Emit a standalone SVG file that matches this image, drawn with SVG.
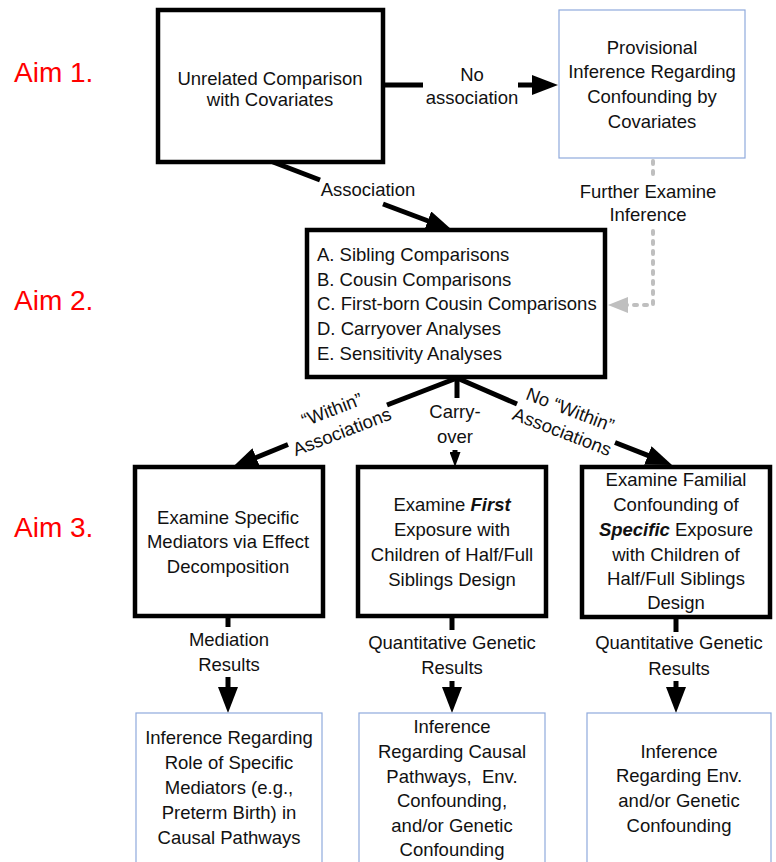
<svg xmlns="http://www.w3.org/2000/svg" width="776" height="862" viewBox="0 0 776 862">
<style>
text{font-family:"Liberation Sans",Arial,sans-serif;font-size:18.5px;fill:#111}
.c{text-anchor:middle}
.aim{font-size:28px;fill:#ff0000}
.box{fill:#fff;stroke:#000;stroke-width:4.5}
.res{fill:#fff;stroke:#8faadc;stroke-width:1.2}
.ln{fill:none;stroke:#000;stroke-width:5}
.gr{fill:none;stroke:#bfbfbf;stroke-width:4;stroke-dasharray:3 7;stroke-linecap:round}
.bi{font-weight:bold;font-style:italic}
</style>
<defs>
<marker id="ah" markerUnits="userSpaceOnUse" markerWidth="26" markerHeight="20" refX="2" refY="10" orient="auto"><path d="M0,0 L26,10 L0,20 z" fill="#000"/></marker>
<marker id="ahs" markerUnits="userSpaceOnUse" markerWidth="15" markerHeight="11" refX="1" refY="5.5" orient="auto"><path d="M0,0 L15,5.5 L0,11 z" fill="#000"/></marker>
<marker id="ahg" markerUnits="userSpaceOnUse" markerWidth="20" markerHeight="16" refX="2" refY="8" orient="auto"><path d="M0,0 L20,8 L0,16 z" fill="#bfbfbf"/></marker>
</defs>
<rect width="776" height="862" fill="#fff"/>

<g id="aims">
<text class="aim" x="14" y="82">Aim 1.</text>
<text class="aim" x="14" y="310">Aim 2.</text>
<text class="aim" x="14" y="537">Aim 3.</text>
</g>

<g id="connectors">
<line class="ln" x1="383" y1="85" x2="423" y2="85"/>
<line class="ln" x1="518" y1="85" x2="534" y2="85" marker-end="url(#ah)"/>
<text class="c" x="472" y="81">No</text>
<text class="c" x="472" y="104">association</text>

<line class="ln" x1="273" y1="162" x2="320" y2="180"/>
<line class="ln" x1="383" y1="204" x2="429.6" y2="221.5" marker-end="url(#ah)"/>
<text class="c" x="368" y="196">Association</text>

<path class="gr" d="M653,161 V178 M653,231 V305 H626" marker-end="url(#ahg)"/>
<text class="c" x="648" y="198">Further Examine</text>
<text class="c" x="648" y="221">Inference</text>

<line class="ln" x1="457" y1="378" x2="387" y2="405"/>
<line class="ln" x1="288" y1="444.5" x2="254.4" y2="458.3" marker-end="url(#ah)"/>
<text class="c" transform="rotate(-21 332 410)" x="332" y="416">“Within”</text>
<text class="c" transform="rotate(-21 342 432)" x="342" y="438">Associations</text>

<line class="ln" x1="457" y1="378" x2="457" y2="398"/>
<line class="ln" x1="455" y1="450" x2="455" y2="453" marker-end="url(#ahs)"/>
<text class="c" x="455" y="418">Carry-</text>
<text class="c" x="455" y="443">over</text>

<line class="ln" x1="457" y1="378" x2="517" y2="404"/>
<line class="ln" x1="615" y1="442.5" x2="649.7" y2="456.2" marker-end="url(#ah)"/>
<text class="c" transform="rotate(21 570 410)" x="570" y="416">No “Within”</text>
<text class="c" transform="rotate(21 562 432)" x="562" y="438">Associations</text>

<line class="ln" x1="228" y1="616" x2="228" y2="627"/>
<line class="ln" x1="228" y1="677" x2="228" y2="689" marker-end="url(#ah)"/>
<text class="c" x="229" y="646">Mediation</text>
<text class="c" x="229" y="671">Results</text>

<line class="ln" x1="452" y1="616" x2="452" y2="630"/>
<line class="ln" x1="452" y1="681" x2="452" y2="689" marker-end="url(#ah)"/>
<text class="c" x="452" y="649">Quantitative Genetic</text>
<text class="c" x="452" y="674">Results</text>

<line class="ln" x1="676" y1="617" x2="676" y2="632"/>
<line class="ln" x1="676" y1="681" x2="676" y2="689" marker-end="url(#ah)"/>
<text class="c" x="679" y="649">Quantitative Genetic</text>
<text class="c" x="679" y="675">Results</text>
</g>

<g id="unrelated">
<rect class="box" x="158" y="10" width="225" height="152"/>
<text class="c" x="270" y="85">Unrelated Comparison</text>
<text class="c" x="270" y="106">with Covariates</text>
</g>

<g id="provisional">
<rect class="res" x="559" y="10" width="186" height="148"/>
<text class="c" x="652" y="54">Provisional</text>
<text class="c" x="652" y="78">Inference Regarding</text>
<text class="c" x="652" y="103">Confounding by</text>
<text class="c" x="652" y="128">Covariates</text>
</g>

<g id="aim2">
<rect class="box" x="307" y="230" width="298" height="147"/>
<text x="317" y="261">A. Sibling Comparisons</text>
<text x="317" y="286">B. Cousin Comparisons</text>
<text x="317" y="310">C. First-born Cousin Comparisons</text>
<text x="317" y="335">D. Carryover Analyses</text>
<text x="317" y="360">E. Sensitivity Analyses</text>
</g>

<g id="mediators">
<rect class="box" x="135" y="467" width="188" height="149"/>
<text class="c" x="228" y="524">Examine Specific</text>
<text class="c" x="228" y="548">Mediators via Effect</text>
<text class="c" x="228" y="573">Decomposition</text>
</g>

<g id="first">
<rect class="box" x="358" y="467" width="188" height="149"/>
<text class="c" x="452" y="511">Examine <tspan class="bi">First</tspan></text>
<text class="c" x="452" y="536">Exposure with</text>
<text class="c" x="452" y="561">Children of Half/Full</text>
<text class="c" x="452" y="586">Siblings Design</text>
</g>

<g id="specific">
<rect class="box" x="582" y="467" width="188" height="150"/>
<text class="c" x="676" y="486">Examine Familial</text>
<text class="c" x="676" y="511">Confounding of</text>
<text class="c" x="676" y="536"><tspan class="bi">Specific</tspan> Exposure</text>
<text class="c" x="676" y="561">with Children of</text>
<text class="c" x="676" y="585">Half/Full Siblings</text>
<text class="c" x="676" y="609">Design</text>
</g>

<g id="res-mediators">
<rect class="res" x="136" y="713" width="186" height="170"/>
<text class="c" x="229" y="744">Inference Regarding</text>
<text class="c" x="229" y="769">Role of Specific</text>
<text class="c" x="229" y="794">Mediators (e.g.,</text>
<text class="c" x="229" y="819">Preterm Birth) in</text>
<text class="c" x="229" y="844">Causal Pathways</text>
</g>

<g id="res-causal">
<rect class="res" x="359" y="713" width="186" height="170"/>
<text class="c" x="452" y="733">Inference</text>
<text class="c" x="452" y="758">Regarding Causal</text>
<text class="c" x="452" y="783">Pathways,&#160; Env.</text>
<text class="c" x="452" y="807">Confounding,</text>
<text class="c" x="452" y="832">and/or Genetic</text>
<text class="c" x="452" y="856">Confounding</text>
</g>

<g id="res-confounding">
<rect class="res" x="587" y="713" width="184" height="170"/>
<text class="c" x="679" y="758">Inference</text>
<text class="c" x="679" y="782">Regarding Env.</text>
<text class="c" x="679" y="807">and/or Genetic</text>
<text class="c" x="679" y="832">Confounding</text>
</g>
</svg>
